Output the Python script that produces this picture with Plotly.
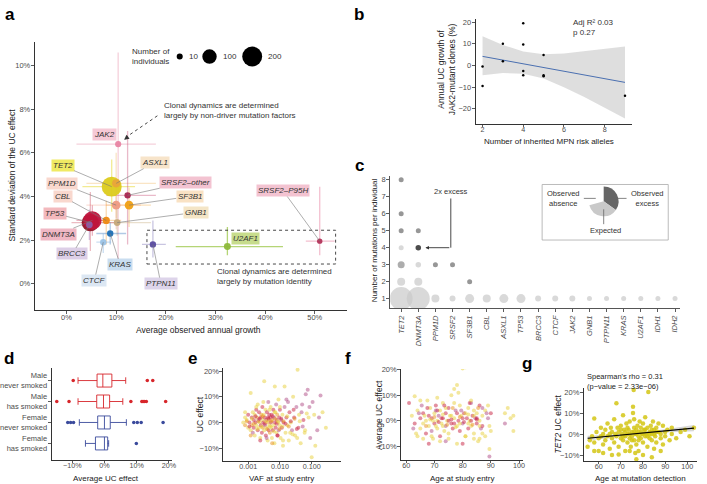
import plotly.graph_objects as go
import math

W, H = 707, 484
FONT = "Liberation Sans, Arial, sans-serif"

def xd(a, b):
    return [a / W, b / W]

def yd(top, bottom):
    return [1 - bottom / H, 1 - top / H]

def PX(x):
    return x / W

def PY(y):
    return 1 - y / H

# ---------------- Panel a data ----------------
a_genes = ["JAK2", "TET2", "ASXL1", "SRSF2–other", "PPM1D", "SF3B1", "CBL", "GNB1",
           "TP53", "DNMT3A", "BRCC3", "KRAS", "CTCF", "PTPN11", "U2AF1", "SRSF2–P95H"]
a_growth = [10.4, 9.1, 10.0, 12.3, 10.0, 12.6, 8.0, 10.2, 4.8, 5.2, 4.6, 8.8, 7.4, 17.4, 32.4, 51.0]
a_sd = [6.4, 4.45, 4.6, 4.05, 3.6, 3.6, 2.9, 2.8, 2.8, 2.9, 2.7, 2.3, 1.9, 1.8, 1.7, 1.95]
a_n = [10, 200, 25, 12, 30, 30, 18, 14, 150, 170, 14, 12, 12, 12, 16, 6]
a_x_lo = [2.0, 3.2, 4.0, 8.0, 4.0, 8.0, 4.0, 6.6, 1.0, 2.0, 3.0, 6.0, 6.0, 15.2, 22.0, 48.2]
a_x_hi = [18.0, 13.8, 18.0, 18.0, 15.0, 17.0, 11.0, 17.0, 10.0, 8.0, 6.0, 12.0, 9.0, 20.0, 43.6, 54.0]
a_y_lo = [1.0, 3.3, 3.0, 1.8, 2.5, 2.6, 1.8, 2.2, 1.5, 2.2, 2.0, 1.8, 1.4, 1.2, 1.3, 1.3]
a_y_hi = [10.6, 5.7, 6.0, 7.0, 4.5, 4.4, 3.8, 3.4, 4.2, 3.6, 3.4, 2.8, 2.3, 2.9, 2.6, 4.45]
a_color = ["#E884A3", "#DCCB1C", "#E9A43A", "#A8264F", "#EE9A82", "#F0A014", "#EE8A12", "#C6A97A",
           "#8E1326", "#C0143C", "#8E5BA8", "#1F6FB4", "#9CC3E6", "#584B9F", "#8DB83A", "#B2345A"]
a_bar = ["rgba(232,150,175,0.45)", "rgba(230,215,40,0.5)", "rgba(240,180,90,0.35)", "rgba(200,80,120,0.4)",
         "rgba(240,160,140,0.35)", "rgba(245,170,60,0.35)", "rgba(240,150,40,0.35)", "rgba(200,175,130,0.4)",
         "rgba(200,60,80,0.35)", "rgba(200,40,80,0.35)", "rgba(150,100,180,0.35)", "rgba(60,120,190,0.4)",
         "rgba(150,190,230,0.5)", "rgba(120,110,180,0.4)", "rgba(150,195,60,0.7)", "rgba(235,140,170,0.55)"]
a_label_bg = ["#F6C9D6", "#F0EA63", "#F7E4CA", "#F3C3D1", "#F9D8CE", "#F9E2C4", "#F9D8CE", "#F4E5C6",
              "#F3B9BD", "#F0B7C4", "#DDCFE7", "#C9DDF0", "#DCE7F3", "#DDD4EA", "#C7DC8C", "#F3C3D1"]
a_label_x = [7.6, -0.8, 17.8, 24.0, -1.0, 24.8, -0.8, 26.0, -2.4, -1.6, 1.2, 10.8, 5.6, 19.0, 36.0, 43.6]
a_label_y = [6.82, 5.41, 5.55, 4.64, 4.59, 4.0, 4.0, 3.27, 3.23, 2.27, 1.36, 0.86, 0.14, 0.0, 2.09, 4.27]
a_has_leader = [False, True, True, True, True, True, True, True, True, True, True, True, True, True, False, True]
legend_n = [10, 100, 200]
legend_cx = [181, 211, 254]

def size_from_n(n):
    return math.sqrt(18 + 1.9 * n)

# ---------------- Panel b data ----------------
b_alleles = [2, 2, 3, 3, 4, 4, 4, 4, 5, 5, 5, 9]
b_growth = [-0.5, -9.5, 10, 2, 19.5, 9.7, -2.5, -4.5, 4.8, -4.5, -5.0, -14]
b_fit_x = [2, 9]
b_fit_y = [4.2, -7.8]
b_band_x = [2, 3, 4, 5, 6, 7, 8, 9]
b_band_hi = [13.5, 9.5, 6.5, 5.2, 5.5, 6.5, 7.8, 8.8]
b_band_lo = [-4.5, -3.5, -3.8, -6.0, -10.0, -14.5, -19.5, -24.5]

# ---------------- Panel c data ----------------
c_genes = ["TET2", "DNMT3A", "PPM1D", "SRSF2", "SF3B1", "CBL", "ASXL1", "TP53", "BRCC3", "CTCF",
           "JAK2", "GNB1", "PTPN11", "KRAS", "U2AF1", "IDH1", "IDH2"]
c_gene_idx = [0, 0, 0, 0, 0, 0, 0, 1, 1, 1, 1, 1, 2, 2, 3, 3, 4, 4, 5, 6, 7, 8, 9, 10, 11, 12, 13, 14, 15, 16]
c_count = [1, 2, 3, 4, 5, 6, 8, 1, 2, 3, 4, 5, 1, 3, 1, 3, 1, 2, 1, 1, 1, 1, 1, 1, 1, 1, 1, 1, 1, 1]
c_kind = ["e", "e", "m", "e", "o", "o", "o", "e", "e", "e", "x", "o", "e", "o", "e", "o", "e", "o",
          "e", "e", "e", "e", "e", "e", "e", "e", "e", "e", "e", "e"]
c_size = [23, 8, 7, 5, 5, 5, 5, 23, 8, 5.5, 5.5, 5, 8, 5, 6, 5, 9, 5, 8, 9, 9, 6, 6, 6, 5, 5, 5, 5, 5, 5]
c_kind_color = {"e": "#C9C9C9", "o": "#6B6B6B", "m": "#8A8A8A", "x": "#000000"}
c_legend_vals = [125, 130, 105]

# ---------------- Panel d data ----------------
d_groups = ["Male<br>never smoked", "Male<br>has smoked", "Female<br>never smoked", "Female<br>has smoked"]
d_q1 = [-2.3, -2.4, -2.1, -2.8]
d_med = [-0.5, -0.3, 0.0, 0.0]
d_q3 = [2.3, 1.6, 1.8, 1.0]
d_lo = [-8.2, -8.2, -7.8, -5.9]
d_hi = [6.6, 5.7, 6.8, 1.3]
d_colors = ["#D7262B", "#D7262B", "#3A4A9C", "#3A4A9C"]
d_out_group = [0, 0, 0, 1, 1, 1, 1, 1, 1, 1, 1, 2, 2, 2, 2, 2, 2, 2, 3]
d_out_val = [-9.7, 13.3, 15.0, -14.8, -11.0, 8.2, 11.6, 12.0, 12.5, 13.0, 19.0,
             -11.4, -10.5, -9.6, 9.1, 10.2, 11.4, 18.2, 9.9]

# ---------------- Panel e data ----------------
e_vaf = [0.0008, 0.0008, 0.0009, 0.0010, 0.0010, 0.0011, 0.0012, 0.0012, 0.0013, 0.0013, 0.0014, 0.0014,
         0.0015, 0.0015, 0.0016, 0.0016, 0.0017, 0.0018, 0.0018, 0.0019, 0.0020, 0.0020, 0.0021, 0.0022,
         0.0022, 0.0023, 0.0024, 0.0025, 0.0025, 0.0026, 0.0027, 0.0028, 0.0028, 0.0029, 0.0030, 0.0031,
         0.0032, 0.0032, 0.0033, 0.0034, 0.0035, 0.0036, 0.0037, 0.0038, 0.0039, 0.0040, 0.0041, 0.0042,
         0.0043, 0.0044, 0.0045, 0.0046, 0.0047, 0.0048, 0.0050, 0.0051, 0.0052, 0.0054, 0.0055, 0.0056,
         0.0058, 0.0060, 0.0062, 0.0063, 0.0065, 0.0067, 0.0069, 0.0070, 0.0072, 0.0074, 0.0076, 0.0078,
         0.0080, 0.0082, 0.0085, 0.0088, 0.0090, 0.0092, 0.0095, 0.0098, 0.010, 0.0105, 0.011, 0.0115,
         0.012, 0.0125, 0.013, 0.014, 0.014, 0.015, 0.016, 0.017, 0.018, 0.019, 0.020, 0.022, 0.024,
         0.026, 0.028, 0.030, 0.033, 0.036, 0.038, 0.040, 0.045, 0.050, 0.055, 0.060, 0.065, 0.075,
         0.080, 0.090, 0.100, 0.107, 0.120, 0.150, 0.190, 0.220, 0.280,
         0.0009, 0.0011, 0.0013, 0.0015, 0.0017, 0.0019, 0.0021, 0.0023, 0.0026, 0.0029, 0.0033, 0.0036,
         0.0040, 0.0044, 0.0049, 0.0053, 0.0059, 0.0064, 0.0071, 0.0079, 0.0087, 0.0097, 0.011, 0.012,
         0.013, 0.015, 0.017, 0.019, 0.022, 0.025, 0.029, 0.034, 0.042, 0.052, 0.070,
         0.0007, 0.0008, 0.0012, 0.0018, 0.0024, 0.0030, 0.0038, 0.0047, 0.0057, 0.0068, 0.0083, 0.0100,
         0.0125, 0.016, 0.021, 0.027, 0.035, 0.048, 0.062, 0.085, 0.13, 0.17]
e_uc = [2, -1, 1, 3, -2, 0, 11.5, -3, 2, -1, 4, -4, 1, -2, 3, -5, 0, 5, -1, 2, -3, 7, 1, -2, 4, 0, -6,
        2, -1, 3, -4, 1, 6, -2, 0, 3, 16, -3, 2, -1, 5, -5, 1, -2, 4, 0, -7, 2, 8, -3, 1, 3, -1, -4, 2, 6,
        0, -2, 3, -6, 1, -3, 5, -1, 2, -8, 14, 0, 4, -2, 7, -4, 1, 3, -5, 0, 9, -3, 2, -1, 5, -6, 1, -2,
        3, -9, 0, 14, 6, -4, 2, -1, 8, -7, 4, 0, -3, 10, 2, -5, 6, 20.5, -2, 3, -8, 7, 1, -4, 11, 12.7,
        2, -6, -13.5, 8, 3, -3, 10.5, 4, -2,
        0.5, -1.5, 1.5, -0.5, 2.5, -2.5, 0.5, 1.5, -1.5, 2.5, -0.5, 0.5, -2.5, 1.5, -1.5, 0.5, 2.5, -3.5,
        1.5, -0.5, 0.5, -2.5, 1.5, -1.5, 0.5, -0.5, 2.5, -1.5, 0.5, -4.5, 1.5, -2.5, 0.5, -1.5, 3.5,
        0, 4, -5, 6, -7, 8, -6, 5, -8, 4, -5, 6, -7, 9, -4, 5, -6, 4, -3, 6, -9, 2]
e_code = ["Y", "O", "Y", "R", "Y", "R", "Y", "Y", "R", "O", "Y", "P", "R", "R", "Y", "Y", "R", "R", "Y",
          "O", "R", "Y", "P", "Y", "R", "Y", "Y", "R", "R", "O", "R", "Y", "R", "O", "R", "Y", "Y", "Y",
          "R", "P", "Y", "R", "R", "Y", "R", "O", "Y", "R", "P", "R", "Y", "R", "Y", "O", "R", "Y", "R",
          "Y", "R", "Y", "O", "R", "R", "Y", "P", "Y", "Y", "R", "Y", "R", "P", "Y", "R", "O", "R", "Y",
          "Y", "P", "R", "Y", "R", "Y", "P", "R", "Y", "Y", "R", "Y", "P", "Y", "R", "Y", "P", "Y", "R",
          "Y", "P", "Y", "R", "Y", "P", "Y", "R", "Y", "Y", "P", "R", "Y", "P", "P", "Y", "P", "Y", "P",
          "Y", "P", "P", "Y", "Y",
          "O", "R", "Y", "O", "R", "Y", "O", "R", "Y", "O", "R", "Y", "O", "R", "Y", "O", "R", "Y",
          "O", "R", "Y", "O", "R", "Y", "O", "R", "Y", "O", "R", "Y", "O", "R", "Y", "P", "Y",
          "Y", "Y", "O", "Y", "R", "Y", "P", "Y", "O", "Y", "R", "Y", "Y", "P", "Y", "R", "Y", "P",
          "Y", "P", "Y", "P"]
code_color = {"Y": "#E8D03A", "R": "#C8203F", "O": "#E8901A", "P": "#B04C86"}

# ---------------- Panel f data ----------------
f_age = [61, 62, 62.5, 63, 63, 64, 64, 65, 65, 65.5, 66, 66, 67, 67, 67.5, 68, 68, 68.5, 69, 69, 69.5,
         70, 70, 70.5, 71, 71, 71.5, 72, 72, 72.5, 73, 73, 73.5, 74, 74, 74.5, 75, 75, 75.5, 76, 76, 76.5,
         77, 77, 77.5, 78, 78, 78.5, 78.5, 79, 79, 79.5, 80, 80, 80.5, 81, 81, 81.5, 82, 82, 82.5, 83, 83,
         83.5, 84, 84, 84.5, 85, 85, 85.5, 86, 86, 86.5, 87, 87, 88, 88, 89, 89, 89.5, 89.5, 89.5, 90, 90,
         95, 95, 96, 97, 98, 98,
         66.5, 69.5, 70.5, 71, 72.5, 73, 74, 75, 76, 77, 78, 79, 80, 81, 82, 83, 84, 85, 86, 87,
         67, 68.5, 70, 71.5, 73, 74.5, 76, 77.5, 79, 80.5, 82, 83.5, 85,
         63.5, 64.5, 66, 67.5, 69, 70.5, 72, 73.5, 75, 76.5, 78, 79.5, 81, 82.5, 84, 85.5, 87, 88.5,
         65, 68, 71, 74, 77, 80, 83, 86]
f_uc = [7, 2, -3, 9.6, -1, 4, -6, 1, -3, 6, -1, 3, 0, -5, 8, 2, -2, 5, -4, 1, -7, 3, -1, 6, 0, -3, 2,
        -6, 4, -1, 1, 7, -4, 3, -2, 0, 5, -5, 2, -1, 10, -3, 12.5, 1, 4, 14, -2, 11, 0, 6, -4, 2, 20.5,
        -1, 3, 21, -6, 1, 5, -3, 0, 7, -2, 2, -5, 4, 1, -1, 3, -8, 6, 0, -3, 2, -2, 4, -6, 1, 6, -2, -11,
        -14, 3, -4, 3, -1, 5, 1, 2, -4,
        2, 0, -2, 4, 1, -2, 5, 0, 2, -1, 3, -1, 1, 3, -1, 0, 2, 1, -2, 5,
        -2, 0.5, 1.5, -0.5, 2.5, -1.5, 0.5, -2.5, 1.5, -0.5, 2.5, -1.5, 0.5,
        -5, 3, -7, 5, -6, 4, -8, 6, -7, 5, -9, 4, -6, 7, -7, 5, -5, 3,
        8, -9, 9, -8, 7, -9, 8, -7]
f_code = ["R", "Y", "P", "Y", "R", "Y", "Y", "R", "Y", "P", "Y", "R", "Y", "R", "Y", "R", "Y", "Y", "P",
          "R", "Y", "Y", "R", "R", "Y", "Y", "P", "R", "Y", "Y", "R", "Y", "Y", "R", "P", "Y", "R", "Y",
          "Y", "R", "Y", "R", "Y", "Y", "P", "Y", "Y", "Y", "R", "Y", "R", "Y", "Y", "P", "R", "Y", "Y",
          "R", "Y", "R", "Y", "P", "Y", "R", "Y", "Y", "P", "R", "Y", "Y", "R", "Y", "P", "Y", "R", "Y",
          "Y", "P", "Y", "Y", "Y", "P", "R", "Y", "Y", "P", "Y", "Y", "Y", "Y",
          "Y", "Y", "Y", "R", "R", "Y", "Y", "R", "Y", "R", "R", "Y", "R", "Y", "Y", "R", "Y", "R", "Y", "P",
          "O", "Y", "O", "R", "Y", "O", "R", "Y", "O", "R", "Y", "O", "R",
          "Y", "P", "Y", "R", "Y", "P", "Y", "R", "Y", "O", "Y", "P", "Y", "R", "Y", "O", "Y", "P",
          "Y", "R", "Y", "P", "Y", "R", "Y", "Y"]

# ---------------- Panel g data ----------------
g_age = [55, 56, 57, 58, 58, 59, 60, 60, 61, 61, 62, 62, 63, 63, 64, 64, 65, 65, 65.5, 66, 66, 67, 67,
         67.5, 68, 68, 68.5, 69, 69, 70, 70, 70.5, 71, 71, 71.5, 72, 72, 72.5, 73, 73, 73.5, 74, 74, 74.5,
         75, 75, 75.5, 75.5, 75.8, 76, 76, 76, 76.5, 76.5, 77, 77, 77.5, 78, 78, 78.5, 79, 79, 79.5, 80,
         80, 80.5, 81, 81, 81.5, 82, 82, 82.4, 83, 83, 83.5, 84, 84, 84.5, 85, 85, 85.5, 86, 86, 87, 87,
         88, 88, 89, 89, 90, 90, 91, 92, 93, 93, 95, 97, 99, 101, 103,
         70, 71, 72, 73, 74, 75, 76, 77, 78, 79, 80, 81, 82, 83, 84, 85, 86, 74, 78, 80, 84, 69, 62, 58,
         88, 66, 77]
g_uc = [-6, -3, -1, 7.4, -4, 1, -2, -8, 3, -1, 0, -5, 2, -3, 5, -1, 0, -7, 3, -2, 1, 7, -4, 0, 14.7,
        -1, 3, -6, 1, -2, 4, 0, -3, 9, 2, -1, -8, 5, 0, -4, 2, -2, 6, -6, 1, -1, 13, 10, 21, 3, -3, 7, 0,
        -9, 2, -5, 4, -1, 1, 6, -2, 3, 0, 5, -4, 2, -1, 8, 0, 3, -6, 20, 1, -2, 4, -3, 0, 6, 2, -7, -1, 3,
        -4, 1, 5, -2, 0, 4, -5, 1, -1, 2, -3, 0, 3, -2, 1, 2, -1, 3,
        2, -1, 1, 3, 0, -3, 1, 0, -3, 1, 0, 2, -1, 0, 2, 0, 1, -8, -8, -10, -11, -9.7, -9, -8, -8, -10, -12]
g_fit_x = [55, 65, 77, 90, 103]
g_fit_y = [-2.0, -1.0, 0.2, 1.5, 2.8]
g_band_hi = [-0.8, -0.3, 0.8, 2.3, 4.3]
g_band_lo = [-3.2, -1.8, -0.4, 0.8, 1.3]

# ---------------- Figure ----------------
fig = go.Figure()

# Panel a: error bars (behind)
for i, g in enumerate(a_genes):
    fig.add_trace(go.Scatter(
        x=[a_growth[i]], y=[a_sd[i]], xaxis="x", yaxis="y", mode="markers",
        marker=dict(size=1, opacity=0),
        error_x=dict(type="data", symmetric=False, array=[a_x_hi[i] - a_growth[i]],
                     arrayminus=[a_growth[i] - a_x_lo[i]], color=a_bar[i], thickness=1.3, width=0),
        error_y=dict(type="data", symmetric=False, array=[a_y_hi[i] - a_sd[i]],
                     arrayminus=[a_sd[i] - a_y_lo[i]], color=a_bar[i], thickness=1.3, width=0),
        showlegend=False, hoverinfo="skip"))
order = [1, 2, 0, 3, 4, 5, 6, 7, 8, 9, 10, 11, 12, 13, 14, 15]
for i in order:
    fig.add_trace(go.Scatter(
        x=[a_growth[i]], y=[a_sd[i]], xaxis="x", yaxis="y", mode="markers",
        marker=dict(size=size_from_n(a_n[i]), color=a_color[i], line=dict(width=0),
                    opacity=0.95),
        showlegend=False, name=a_genes[i]))

annotations = []
shapes = []

for i, g in enumerate(a_genes):
    ann = dict(text="<i>" + g + "</i>", xref="x", yref="y", bgcolor=a_label_bg[i], borderpad=1,
               font=dict(size=8, color="#333", family=FONT))
    if a_has_leader[i]:
        ann.update(x=a_growth[i], y=a_sd[i], ax=a_label_x[i], ay=a_label_y[i], axref="x", ayref="y",
                   showarrow=True, arrowhead=0, arrowwidth=0.6, arrowcolor="#777", standoff=0)
    else:
        ann.update(x=a_label_x[i], y=a_label_y[i], showarrow=False)
    annotations.append(ann)

# dashed box & notes in a
shapes.append(dict(type="rect", xref="x", yref="y", x0=16.2, x1=54.2, y0=0.9, y1=2.45,
                   line=dict(color="#333", width=0.9, dash="dot")))
annotations.append(dict(xref="x", yref="y", x=30.0, y=0.85, xanchor="left", yanchor="top",
                        text="Clonal dynamics are determined<br>largely by mutation identity",
                        showarrow=False, align="left", font=dict(size=8, color="#333", family=FONT)))
annotations.append(dict(xref="x", yref="y", x=19.2, y=7.95, xanchor="left", yanchor="middle",
                        text="Clonal dynamics are determined<br>largely by non-driver mutation factors",
                        showarrow=False, align="left", font=dict(size=8, color="#333", family=FONT)))
shapes.append(dict(type="line", xref="x", yref="y", x0=18.3, y0=7.7, x1=12.2, y1=6.75,
                   line=dict(color="#333", width=0.9, dash="dot")))
annotations.append(dict(xref="x", yref="y", x=11.6, y=6.6, ax=12.6, ay=6.78, axref="x", ayref="y",
                        text="", showarrow=True, arrowhead=2, arrowsize=1, arrowwidth=1,
                        arrowcolor="#333", standoff=0))
# size legend
annotations.append(dict(xref="paper", yref="paper", x=PX(173), y=PY(53), xanchor="right",
                        yanchor="middle", text="Number of<br>individuals", showarrow=False,
                        align="left", font=dict(size=8, color="#333", family=FONT)))
for n, cx in zip(legend_n, legend_cx):
    r = size_from_n(n) / 2
    shapes.append(dict(type="circle", xref="paper", yref="paper", xsizemode="pixel",
                       ysizemode="pixel", xanchor=PX(cx), yanchor=PY(53), x0=-r, x1=r, y0=-r, y1=r,
                       fillcolor="black", line=dict(width=0)))
    annotations.append(dict(xref="paper", yref="paper", x=PX(cx + r + 4), y=PY(53), xanchor="left",
                            yanchor="middle", text=str(n), showarrow=False,
                            font=dict(size=8, color="#333", family=FONT)))

# Panel b
fig.add_trace(go.Scatter(x=b_band_x + b_band_x[::-1], y=b_band_hi + b_band_lo[::-1], xaxis="x2",
                         yaxis="y2", fill="toself", fillcolor="rgba(200,200,200,0.6)",
                         line=dict(width=0), mode="lines", showlegend=False, hoverinfo="skip"))
fig.add_trace(go.Scatter(x=b_fit_x, y=b_fit_y, xaxis="x2", yaxis="y2", mode="lines",
                         line=dict(color="#4A6FB0", width=1), showlegend=False))
fig.add_trace(go.Scatter(x=b_alleles, y=b_growth, xaxis="x2", yaxis="y2", mode="markers",
                         marker=dict(size=2.5, color="black"), showlegend=False))
annotations.append(dict(xref="paper", yref="paper", x=PX(575), y=PY(12), xanchor="left",
                        yanchor="top", align="left", text="Adj R² 0.03<br>p 0.27", showarrow=False,
                        font=dict(size=8, color="#333", family=FONT)))

# Panel c
for kind in ["e", "m", "o", "x"]:
    xs = [c_gene_idx[i] for i in range(len(c_kind)) if c_kind[i] == kind]
    ys = [c_count[i] for i in range(len(c_kind)) if c_kind[i] == kind]
    ss = [c_size[i] for i in range(len(c_kind)) if c_kind[i] == kind]
    fig.add_trace(go.Scatter(x=xs, y=ys, xaxis="x3", yaxis="y3", mode="markers",
                             marker=dict(size=ss, color=c_kind_color[kind], line=dict(width=0)),
                             showlegend=False))
# 2x excess callout
annotations.append(dict(xref="x3", yref="y3", x=2.9, y=6.9, text="2x excess", showarrow=False,
                        yanchor="bottom", font=dict(size=7.5, color="#333", family=FONT)))
shapes.append(dict(type="line", xref="x3", yref="y3", x0=2.9, x1=2.9, y0=6.9, y1=4.0,
                   line=dict(color="#333", width=0.9)))
annotations.append(dict(xref="x3", yref="y3", x=1.3, y=4.0, ax=2.9, ay=4.0, axref="x3", ayref="y3",
                        text="", showarrow=True, arrowhead=2, arrowsize=0.8, arrowwidth=0.9,
                        arrowcolor="#333", standoff=2))
# legend box with pie
shapes.append(dict(type="rect", xref="paper", yref="paper", x0=PX(546), x1=PX(673), y0=PY(238),
                   y1=PY(182), line=dict(color="#AAAAAA", width=0.8), layer="below"))
fig.add_trace(go.Pie(values=c_legend_vals, marker=dict(colors=["#666666", "#C9C9C9", "rgba(0,0,0,0)"],
                                                        line=dict(width=0)),
                     sort=False, direction="clockwise", rotation=0, textinfo="none",
                     domain=dict(x=[PX(593), PX(623)], y=[PY(214), PY(184)]),
                     showlegend=False, hoverinfo="skip"))
annotations.append(dict(xref="paper", yref="paper", x=PX(586), y=PY(196), xanchor="right",
                        yanchor="middle", align="center", text="Observed<br>absence",
                        showarrow=False, font=dict(size=7.5, color="#333", family=FONT)))
annotations.append(dict(xref="paper", yref="paper", x=PX(633), y=PY(196), xanchor="left",
                        yanchor="middle", align="center", text="Observed<br>excess",
                        showarrow=False, font=dict(size=7.5, color="#333", family=FONT)))
annotations.append(dict(xref="paper", yref="paper", x=PX(610), y=PY(228), xanchor="center",
                        yanchor="middle", text="Expected", showarrow=False,
                        font=dict(size=7.5, color="#333", family=FONT)))
shapes.append(dict(type="line", xref="paper", yref="paper", x0=PX(588), x1=PX(600), y0=PY(196),
                   y1=PY(196), line=dict(color="#666", width=0.8)))
shapes.append(dict(type="line", xref="paper", yref="paper", x0=PX(619), x1=PX(631), y0=PY(196),
                   y1=PY(196), line=dict(color="#666", width=0.8)))
shapes.append(dict(type="line", xref="paper", yref="paper", x0=PX(608), x1=PX(608), y0=PY(207),
                   y1=PY(222), line=dict(color="#666", width=0.8)))

# Panel d
for i, gname in enumerate(d_groups):
    fig.add_trace(go.Box(y=[i], q1=[d_q1[i]], median=[d_med[i]], q3=[d_q3[i]],
                         lowerfence=[d_lo[i]], upperfence=[d_hi[i]], orientation="h",
                         xaxis="x4", yaxis="y4", fillcolor="white", width=0.62,
                         line=dict(color=d_colors[i], width=0.9), boxpoints=False,
                         showlegend=False, hoverinfo="skip"))
fig.add_trace(go.Scatter(x=d_out_val, y=d_out_group, xaxis="x4", yaxis="y4", mode="markers",
                         marker=dict(size=3.5, color=[d_colors[k] for k in d_out_group]),
                         showlegend=False))

# Panel e
fig.add_trace(go.Scatter(x=e_vaf, y=e_uc, xaxis="x5", yaxis="y5", mode="markers",
                         marker=dict(size=4, color=[code_color[c] for c in e_code], opacity=0.5,
                                     line=dict(width=0)), showlegend=False))
# Panel f
fig.add_trace(go.Scatter(x=f_age, y=f_uc, xaxis="x6", yaxis="y6", mode="markers",
                         marker=dict(size=4, color=[code_color[c] for c in f_code], opacity=0.5,
                                     line=dict(width=0)), showlegend=False))
# Panel g
fig.add_trace(go.Scatter(x=g_fit_x + g_fit_x[::-1], y=g_band_hi + g_band_lo[::-1], xaxis="x7",
                         yaxis="y7", fill="toself", fillcolor="rgba(190,190,190,0.6)",
                         line=dict(width=0), mode="lines", showlegend=False, hoverinfo="skip"))
fig.add_trace(go.Scatter(x=g_age, y=g_uc, xaxis="x7", yaxis="y7", mode="markers",
                         marker=dict(size=4.5, color="#D4C614", opacity=0.85, line=dict(width=0)),
                         showlegend=False))
fig.add_trace(go.Scatter(x=g_fit_x, y=g_fit_y, xaxis="x7", yaxis="y7", mode="lines",
                         line=dict(color="black", width=1.2), showlegend=False))
annotations.append(dict(xref="paper", yref="paper", x=PX(589), y=PY(369), xanchor="left",
                        yanchor="top", align="left",
                        text="Spearman's rho = 0.31<br>(p−value = 2.33e−06)", showarrow=False,
                        font=dict(size=7.5, color="#222", family=FONT)))

# panel letters
for letter, x, y in [("a", 10, 11), ("b", 362, 11), ("c", 362, 163), ("d", 9, 357),
                     ("e", 194, 357), ("f", 350, 357), ("g", 531, 362)]:
    annotations.append(dict(xref="paper", yref="paper", x=PX(x), y=PY(y), text="<b>" + letter + "</b>",
                            showarrow=False, xanchor="center", yanchor="middle",
                            font=dict(size=17, color="black", family=FONT)))

# axis titles
def title(text, x, y, angle=0, size=8.5):
    annotations.append(dict(xref="paper", yref="paper", x=PX(x), y=PY(y), text=text,
                            showarrow=False, textangle=angle, xanchor="center", yanchor="middle",
                            font=dict(size=size, color="#222", family=FONT)))

title("Standard deviation of the UC effect", 12, 172, -90)
title("Average observed annual growth", 200, 329)
title("Annual UC growth of<br>JAK2-mutant clones (%)", 450, 66, -90)
title("Number of inherited MPN risk alleles", 553, 138.5, 0, 8)
title("Number of mutations per individual", 377, 238, -90, 8)
title("Average UC effect", 107, 478.5, 0, 8)
title("UC effect", 201, 414, -90)
title("VAF at study entry", 284, 478.5, 0, 8)
title("Average UC effect", 381, 414, -90)
title("Age at study entry", 465, 478.5, 0, 8)
title("<i>TET2</i> UC effect", 562, 424, -90)
title("Age at mutation detection", 645, 478.5, 0, 8)

tickfont = dict(size=7.5, color="#4D4D4D", family=FONT)
common = dict(showline=True, linecolor="#333", linewidth=1, ticks="outside", ticklen=3,
              tickwidth=0.8, tickcolor="#333", tickfont=tickfont, showgrid=False, zeroline=False,
              fixedrange=True)
xcommon = dict(common, ticklabelstandoff=-3)
xlow = dict(common, ticklabelstandoff=-4, ticklen=2, tickfont=dict(size=7.2, color="#4D4D4D", family=FONT))
ycommon = dict(common, ticklabelstandoff=-1)

def pct(vals):
    return [("−" if v < 0 else "") + str(abs(v)) + "%" for v in vals]

def mn(vals):
    return [("−" if v < 0 else "") + str(abs(v)) for v in vals]

layout = dict(
    width=W, height=H, margin=dict(l=0, r=0, t=0, b=0), plot_bgcolor="white",
    paper_bgcolor="white", font=dict(family=FONT), showlegend=False,
    xaxis=dict(xcommon, domain=xd(35, 349), anchor="y", range=[-6.4, 56.4],
               tickvals=[0, 10, 20, 30, 40, 50], ticktext=pct([0, 10, 20, 30, 40, 50])),
    yaxis=dict(ycommon, domain=yd(38, 309), anchor="x", range=[-1.23, 11.1],
               tickvals=[0, 2, 4, 6, 8, 10], ticktext=pct([0, 2, 4, 6, 8, 10])),
    xaxis2=dict(xlow, domain=xd(479, 636), anchor="y2", range=[1.66, 9.32], tickvals=[2, 4, 6, 8]),
    yaxis2=dict(ycommon, domain=yd(15, 121), anchor="x2", range=[-27, 21.5],
                tickvals=[-20, -10, 0, 10, 20], ticktext=mn([-20, -10, 0, 10, 20])),
    xaxis3=dict(common, domain=xd(393, 685), anchor="y3", range=[-0.64, 16.3],
                tickvals=list(range(len(c_genes))), ticktext=["<i>" + g + "</i>" for g in c_genes],
                tickangle=-90, linecolor="#555", tickfont=dict(size=7.5, color="#4D4D4D", family=FONT)),
    yaxis3=dict(ycommon, domain=yd(173, 307), anchor="x3", range=[0.42, 8.25],
                tickvals=list(range(1, 9)), linecolor="#555"),
    xaxis4=dict(xlow, domain=xd(52, 173), anchor="y4", range=[-16.4, 20.9],
                tickvals=[-10, 0, 10, 20], ticktext=pct([-10, 0, 10, 20])),
    yaxis4=dict(ycommon, domain=yd(367, 460), anchor="x4", range=[3.8, -0.6],
                tickvals=[0, 1, 2, 3], ticktext=d_groups),
    xaxis5=dict(xlow, domain=xd(225, 343), anchor="y5", type="log", range=[-3.78, -0.09],
                tickvals=[0.001, 0.01, 0.1], ticktext=["0.001", "0.010", "0.100"]),
    yaxis5=dict(ycommon, domain=yd(367, 461), anchor="x5", range=[-15, 21.2],
                tickvals=[-10, 0, 10, 20], ticktext=pct([-10, 0, 10, 20])),
    xaxis6=dict(xlow, domain=xd(404, 527), anchor="y6", range=[58.2, 101.5],
                tickvals=[60, 70, 80, 90, 100]),
    yaxis6=dict(ycommon, domain=yd(368, 460), anchor="x6", range=[-15.4, 20.3],
                tickvals=[-10, 0, 10, 20], ticktext=pct([-10, 0, 10, 20])),
    xaxis7=dict(xlow, domain=xd(588, 702), anchor="y7", range=[53.3, 104.4],
                tickvals=[60, 70, 80, 90, 100]),
    yaxis7=dict(ycommon, domain=yd(387, 461), anchor="x7", range=[-12.9, 22],
                tickvals=[-10, 0, 10, 20], ticktext=pct([-10, 0, 10, 20])),
    annotations=annotations, shapes=shapes,
)
fig.update_layout(**layout)
fig.write_html("out.html", config={"displayModeBar": False, "staticPlot": True},
               post_script="document.body.style.margin='0';document.body.style.overflow='hidden';")
